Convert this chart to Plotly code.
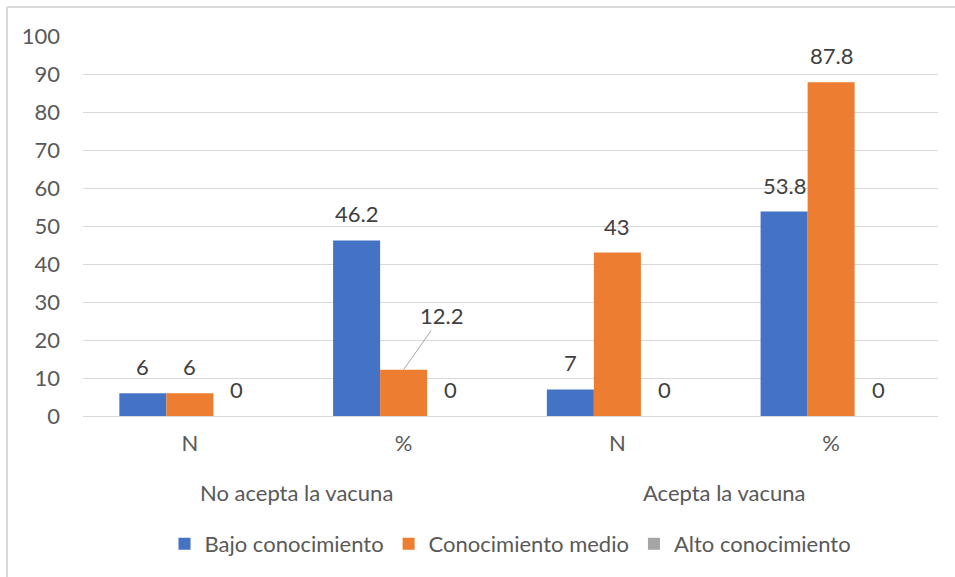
import plotly.graph_objects as go

# ---- data ----
categories = ["N", "%", "N", "%"]
groups = ["No acepta la vacuna", "Acepta la vacuna"]
series_names = ["Bajo conocimiento", "Conocimiento medio", "Alto conocimiento"]
bajo = [6, 46.2, 7, 53.8]
medio = [6, 12.2, 43, 87.8]
alto = [0, 0, 0, 0]
y_ticks = [0, 10, 20, 30, 40, 50, 60, 70, 80, 90, 100]

# ---- style ----
colors = ["#4472C4", "#ED7D31", "#A5A5A5"]
FONT = "Lato"
TXT = "#595959"
LBL = "#404040"
FS = 22
BARGAP = 0.34
W, H = 955, 577
ML, MR, MT, MB = 83, 17, 36, 161

xs = list(range(len(categories)))
all_series = [bajo, medio, alto]

fig = go.Figure()
for name, vals, col in zip(series_names, all_series, colors):
    fig.add_trace(go.Bar(x=xs, y=vals, name=name, marker=dict(color=col, line=dict(width=0))))

# data labels
bw = (1 - BARGAP) / len(all_series)
ann = []
for s, vals in enumerate(all_series):
    off = (s - (len(all_series) - 1) / 2) * bw
    for i, v in enumerate(vals):
        lab = f"{v:g}"
        if s == 1 and i == 1:
            ann.append(dict(x=i + off, y=v, xref="x", yref="y", text=lab, showarrow=True,
                            arrowhead=0, arrowwidth=1, arrowcolor="#A6A6A6", ax=38, ay=-54,
                            standoff=0, startstandoff=0,
                            font=dict(family=FONT, size=FS, color=LBL)))
            continue
        ann.append(dict(x=i + off, y=v, xref="x", yref="y", text=lab, showarrow=False,
                        yanchor="bottom", yshift=11,
                        font=dict(family=FONT, size=FS, color=LBL)))

plot_h = H - MT - MB
for g, name in enumerate(groups):
    ann.append(dict(x=2 * g + 0.5, y=-76 / plot_h, xref="x", yref="paper", text=name,
                    showarrow=False, yanchor="middle",
                    font=dict(family=FONT, size=FS, color=TXT)))

plot_w = W - ML - MR
shapes = [
    dict(type="line", xref="paper", yref="paper", x0=(7 - ML) / plot_w, x1=(W - ML) / plot_w,
         y0=1 + (MT - 7) / plot_h, y1=1 + (MT - 7) / plot_h, line=dict(color="#D9D9D9", width=2)),
    dict(type="line", xref="paper", yref="paper", x0=(7 - ML) / plot_w, x1=(7 - ML) / plot_w,
         y0=1 + (MT - 7) / plot_h, y1=-MB / plot_h, line=dict(color="#D9D9D9", width=2)),
]

fig.update_layout(
    width=W, height=H,
    margin=dict(l=ML, r=MR, t=MT, b=MB),
    paper_bgcolor="white", plot_bgcolor="white",
    barmode="group", bargap=BARGAP, bargroupgap=0,
    font=dict(family=FONT, size=FS, color=TXT),
    showlegend=True,
    legend=dict(orientation="h", x=0.5, xanchor="center", y=-128 / plot_h, yanchor="middle",
                font=dict(family=FONT, size=FS, color=TXT), itemclick=False),
    annotations=ann,
    shapes=shapes,
)
fig.update_xaxes(range=[-0.5, len(categories) - 0.5], tickvals=xs, ticktext=categories,
                 showgrid=False, zeroline=False, showline=False, ticks="",
                 ticklabelstandoff=12, tickfont=dict(family=FONT, size=FS, color=TXT))
fig.update_yaxes(range=[0, 100], tickvals=y_ticks, showgrid=True, gridcolor="#D9D9D9",
                 gridwidth=1, zeroline=True, zerolinecolor="#D9D9D9", zerolinewidth=1,
                 showline=False, ticks="", ticklabelstandoff=22,
                 tickfont=dict(family=FONT, size=FS, color=TXT))

fig.write_html("out.html")
